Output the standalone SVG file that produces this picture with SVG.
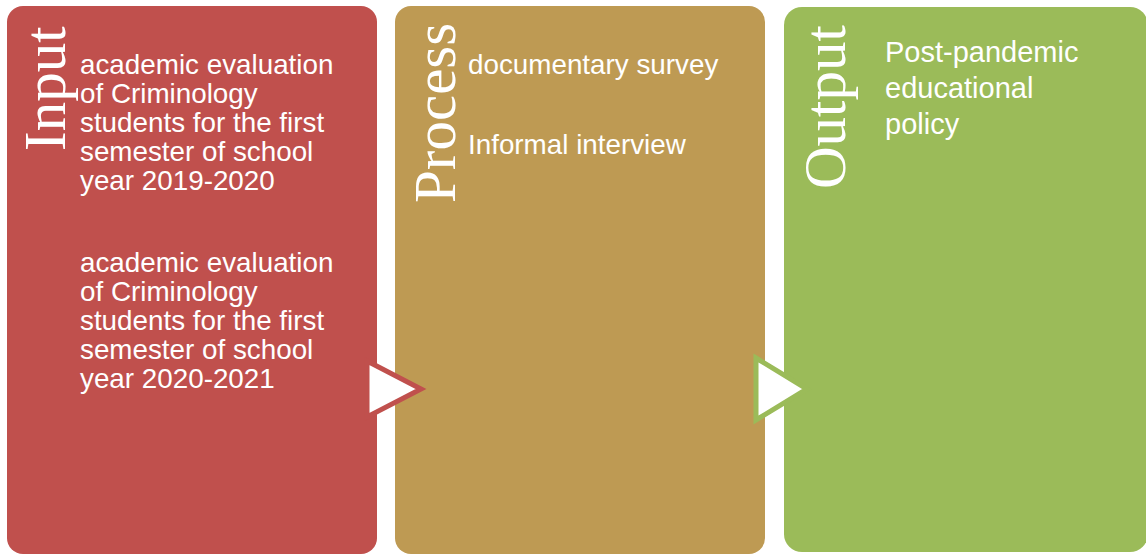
<svg xmlns="http://www.w3.org/2000/svg" width="1146" height="554" viewBox="0 0 1146 554">
  <style>
    .title { font-family: "Liberation Serif", "Times New Roman", serif; font-size: 59px; fill: #ffffff; }
    .body { font-family: "Liberation Sans", Arial, sans-serif; font-size: 27.8px; fill: #ffffff; }
    .body-lg { font-family: "Liberation Sans", Arial, sans-serif; font-size: 29px; fill: #ffffff; }
    .chevron { fill: #ffffff; stroke-width: 5; stroke-linejoin: miter; }
  </style>
  <rect width="1146" height="554" fill="#ffffff"/>

  <!-- Input stage -->
  <g id="input">
    <rect x="7" y="6" width="370" height="548" rx="16" fill="#C0504D"/>
    <text class="title" transform="translate(65,151) rotate(-90)">Input</text>
    <text class="body">
      <tspan x="80" y="74">academic evaluation</tspan>
      <tspan x="80" y="103">of Criminology</tspan>
      <tspan x="80" y="132">students for the first</tspan>
      <tspan x="80" y="161">semester of school</tspan>
      <tspan x="80" y="190">year 2019-2020</tspan>
      <tspan x="80" y="272">academic evaluation</tspan>
      <tspan x="80" y="301">of Criminology</tspan>
      <tspan x="80" y="330">students for the first</tspan>
      <tspan x="80" y="359">semester of school</tspan>
      <tspan x="80" y="388">year 2020-2021</tspan>
    </text>
  </g>

  <!-- Process stage -->
  <g id="process">
    <rect x="395" y="6" width="370" height="548" rx="16" fill="#BE9A53"/>
    <text class="title" transform="translate(455,203) rotate(-90)">Process</text>
    <text class="body">
      <tspan x="468" y="74">documentary survey</tspan>
      <tspan x="468" y="154">Informal interview</tspan>
    </text>
  </g>

  <!-- Output stage -->
  <g id="output">
    <rect x="784" y="7" width="364" height="545" rx="18" fill="#9BBB59"/>
    <text class="title" transform="translate(845,189) rotate(-90)">Output</text>
    <text class="body-lg">
      <tspan x="885" y="62">Post-pandemic</tspan>
      <tspan x="885" y="98">educational</tspan>
      <tspan x="885" y="134">policy</tspan>
    </text>
  </g>

  <!-- Connectors between stages -->
  <g id="connectors">
    <path class="chevron" stroke="#C0504D" d="M367,361 L421,389 L367,417 Z"/>
    <path class="chevron" stroke="#9BBB59" d="M756,358 L807,389 L756,420 Z"/>
  </g>
</svg>
